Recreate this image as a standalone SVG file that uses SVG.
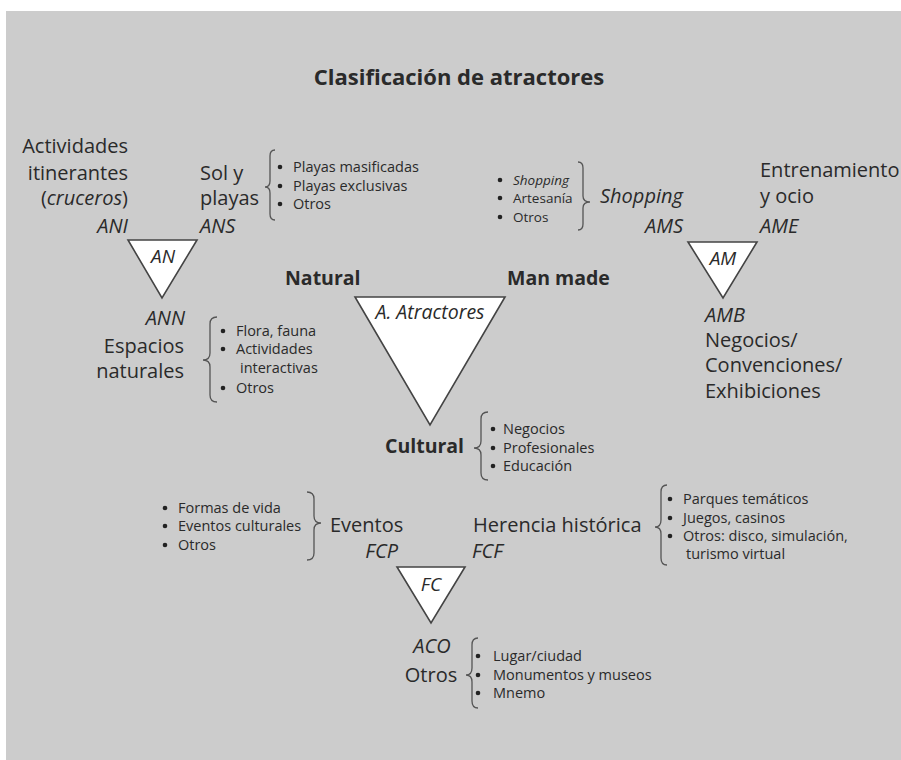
<svg xmlns="http://www.w3.org/2000/svg" width="901" height="760" viewBox="0 0 901 760">
<style>
text{font-family:"Open Sans","Noto Sans","DejaVu Sans",sans-serif;fill:#2a2a2a}
.t{font-size:20px}
.b{font-size:19.5px;font-weight:bold}
.i{font-style:italic}
.s{font-size:14.5px}
.e{text-anchor:end}
.m{text-anchor:middle}
.tri{fill:#fff;stroke:#444;stroke-width:1.6;stroke-linejoin:miter}
.br{fill:none;stroke:#555;stroke-width:1.3}
.dot{fill:#222}
</style>
<rect x="6" y="11" width="895" height="749" fill="#cccccc"/>
<text x="459" y="85" class="m" style="font-size:22px;font-weight:bold">Clasificación de atractores</text>

<g id="connectors">
<path class="br" d="M275,150 Q270,150 270,156 L270,181 Q270,187 265,187 Q270,187 270,193 L270,214 Q270,220 275,220"/>
<path class="br" d="M578,162 Q583,162 583,168 L583,196 Q583,202 590,202 Q583,202 583,208 L583,224 Q583,230 578,230"/>
<path class="br" d="M217,317 Q210,317 210,324 L210,353 Q210,360 203,360 Q210,360 210,367 L210,395 Q210,402 217,402"/>
<path class="br" d="M488,412 Q481,412 481,419 L481,441 Q481,448 474,448 Q481,448 481,455 L481,473 Q481,480 488,480"/>
<path class="br" d="M307,492 Q314,492 314,499 L314,516 Q314,523 321,523 Q314,523 314,530 L314,553 Q314,560 307,560"/>
<path class="br" d="M667,485 Q661,485 661,492 L661,520 Q661,527 655,527 Q661,527 661,534 L661,558 Q661,565 667,565"/>
<path class="br" d="M478,638 Q472,638 472,645 L472,668 Q472,675 466,675 Q472,675 472,682 L472,701 Q472,708 478,708"/>
</g>

<g id="atractores">
<polygon class="tri" points="355,297 505,297 430,425"/>
<text x="430" y="319" class="i m" style="font-size:19.5px">A. Atractores</text>
<text x="285" y="285" class="b">Natural</text>
<text x="507" y="285" class="b">Man made</text>
<text x="385" y="453" class="b">Cultural</text>
</g>

<g id="AN">
<polygon class="tri" points="128,240 197,240 162,298"/>
<text x="163" y="263" class="i m" style="font-size:19px">AN</text>
</g>

<g id="ANI">
<text class="t e"><tspan x="128" y="153">Actividades</tspan><tspan x="128" y="180">itinerantes</tspan><tspan x="128" y="205">(<tspan class="i">cruceros</tspan>)</tspan></text>
<text x="128" y="233" class="t i e">ANI</text>
</g>

<g id="ANS">
<text class="t"><tspan x="200" y="180">Sol y</tspan><tspan x="200" y="205">playas</tspan></text>
<text x="200" y="233" class="t i">ANS</text>
<circle class="dot" cx="280" cy="167" r="2.3"/><circle class="dot" cx="280" cy="186" r="2.3"/><circle class="dot" cx="280" cy="204" r="2.3"/>
<text class="s"><tspan x="293" y="172">Playas masificadas</tspan><tspan x="293" y="191">Playas exclusivas</tspan><tspan x="293" y="209">Otros</tspan></text>
</g>

<g id="ANN">
<text x="185" y="325" class="t i e">ANN</text>
<text class="t e"><tspan x="184" y="353">Espacios</tspan><tspan x="184" y="378">naturales</tspan></text>
<circle class="dot" cx="223" cy="331" r="2.3"/><circle class="dot" cx="223" cy="349" r="2.3"/><circle class="dot" cx="223" cy="388" r="2.3"/>
<text class="s"><tspan x="236" y="336">Flora, fauna</tspan><tspan x="236" y="354">Actividades</tspan><tspan x="240" y="373">interactivas</tspan><tspan x="236" y="393">Otros</tspan></text>
</g>

<g id="AM">
<polygon class="tri" points="688,242 757,242 723,298"/>
<text x="723" y="265" class="i m" style="font-size:19px">AM</text>
</g>

<g id="AMS">
<circle class="dot" cx="500" cy="180" r="2.3"/><circle class="dot" cx="500" cy="198" r="2.3"/><circle class="dot" cx="500" cy="217" r="2.3"/>
<text style="font-size:13.5px"><tspan x="513" y="185" class="i">Shopping</tspan><tspan x="513" y="203">Artesanía</tspan><tspan x="513" y="222">Otros</tspan></text>
<text x="600" y="203" class="t i">Shopping</text>
<text x="683" y="233" class="t i e">AMS</text>
</g>

<g id="AME">
<text class="t"><tspan x="760" y="177">Entrenamiento</tspan><tspan x="760" y="203">y ocio</tspan></text>
<text x="760" y="233" class="t i">AME</text>
</g>

<g id="AMB">
<text x="705" y="322" class="t i">AMB</text>
<text class="t"><tspan x="705" y="347">Negocios/</tspan><tspan x="705" y="372">Convenciones/</tspan><tspan x="705" y="398">Exhibiciones</tspan></text>
</g>

<g id="cultural-list">
<circle class="dot" cx="493" cy="429" r="2.3"/><circle class="dot" cx="493" cy="448" r="2.3"/><circle class="dot" cx="493" cy="466" r="2.3"/>
<text class="s"><tspan x="503" y="434">Negocios</tspan><tspan x="503" y="453">Profesionales</tspan><tspan x="503" y="471">Educación</tspan></text>
</g>

<g id="FC">
<polygon class="tri" points="397,567 465,567 431,623"/>
<text x="431" y="591" class="i m" style="font-size:19px">FC</text>
</g>

<g id="FCP">
<circle class="dot" cx="165" cy="508" r="2.3"/><circle class="dot" cx="165" cy="526" r="2.3"/><circle class="dot" cx="165" cy="545" r="2.3"/>
<text class="s"><tspan x="178" y="513">Formas de vida</tspan><tspan x="178" y="531">Eventos culturales</tspan><tspan x="178" y="550">Otros</tspan></text>
<text x="330" y="532" class="t">Eventos</text>
<text x="398" y="558" class="t i e">FCP</text>
</g>

<g id="FCF">
<text x="473" y="532" class="t">Herencia histórica</text>
<text x="472" y="558" class="t i">FCF</text>
<circle class="dot" cx="670" cy="499" r="2.3"/><circle class="dot" cx="670" cy="518" r="2.3"/><circle class="dot" cx="670" cy="536" r="2.3"/>
<text class="s"><tspan x="683" y="504">Parques temáticos</tspan><tspan x="683" y="523">Juegos, casinos</tspan><tspan x="683" y="541">Otros: disco, simulación,</tspan><tspan x="686" y="559">turismo virtual</tspan></text>
</g>

<g id="ACO">
<text x="432" y="653" class="t i m">ACO</text>
<text x="431" y="682" class="t m">Otros</text>
<circle class="dot" cx="478" cy="656" r="2.3"/><circle class="dot" cx="478" cy="675" r="2.3"/><circle class="dot" cx="478" cy="693" r="2.3"/>
<text class="s"><tspan x="493" y="661">Lugar/ciudad</tspan><tspan x="493" y="680">Monumentos y museos</tspan><tspan x="493" y="698">Mnemo</tspan></text>
</g>
</svg>
